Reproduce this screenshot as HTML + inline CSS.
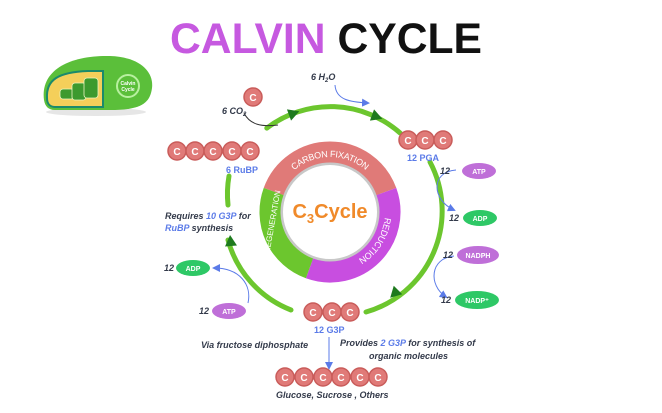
<!DOCTYPE html>
<html><head><meta charset="utf-8"><style>
html,body{margin:0;padding:0;background:#fff;width:662px;height:413px;overflow:hidden}
svg{display:block}
text{font-family:"Liberation Sans",sans-serif}
</style></head><body>
<svg width="662" height="413" viewBox="0 0 662 413" xmlns="http://www.w3.org/2000/svg">
<defs>
<marker id="ab" markerWidth="8" markerHeight="8" refX="6" refY="4" orient="auto" markerUnits="userSpaceOnUse"><path d="M0,0 L8,4 L0,8 z" fill="#5b7be8"/></marker>
</defs>
<text x="170" y="53" font-size="43" font-weight="bold" textLength="312" lengthAdjust="spacingAndGlyphs"><tspan fill="#c659e0">CALVIN</tspan><tspan fill="#111"> CYCLE</tspan></text>

<ellipse cx="96" cy="112" rx="50" ry="4" fill="#e6e6e6"/>
<path d="M44,100 C40,70 70,55 110,56 C140,57 154,72 152,88 C150,104 140,110 110,110 L55,110 C48,110 45,106 44,100 z" fill="#5bbf3a"/>
<path d="M47,98 C46,80 58,72 88,71 L103,71 L103,107 L55,107 C50,107 47,104 47,98 z" fill="#f4cf5a" stroke="#1b8a6b" stroke-width="2"/>
<g fill="#3c9a2e" stroke="#ecf5c0" stroke-width="0.8">
<rect x="60" y="89" width="14" height="10" rx="3"/><rect x="72" y="83" width="14" height="17" rx="3"/><rect x="84" y="78" width="14" height="20" rx="3"/>
</g>
<circle cx="128" cy="86" r="11" fill="none" stroke="#b8f0a0" stroke-width="2"/>
<text x="128" y="85" font-size="5" font-weight="bold" fill="#fff" text-anchor="middle">Calvin</text>
<text x="128" y="91" font-size="5" font-weight="bold" fill="#fff" text-anchor="middle">Cycle</text>

<circle cx="330" cy="212" r="50" fill="#fff" stroke="#c8c8c8" stroke-width="6"/>
<circle cx="330" cy="212" r="46" fill="#fff"/>
<g fill="none" stroke-width="21">
<path d="M273.6,191.5 A60,60 0 0 1 386.4,191.5" stroke="#e07a78"/>
<path d="M386.4,191.5 A60,60 0 0 1 309.5,268.4" stroke="#c84ee0"/>
<path d="M309.5,268.4 A60,60 0 0 1 273.6,191.5" stroke="#6cc62e"/>
</g>
<text x="330" y="218" font-size="20" font-weight="bold" fill="#f08a2a" text-anchor="middle">C<tspan font-size="13" dy="5">3</tspan><tspan dy="-5">Cycle</tspan></text>
<defs>
<path id="tp1" d="M272,212 A58,58 0 0 1 388,212"/>
<path id="tp2" d="M330,154 A58,58 0 0 1 330,270"/>
</defs>
<text font-size="9" fill="#fff" dy="3"><textPath href="#tp1" startOffset="50%" text-anchor="middle">CARBON FIXATION</textPath></text>
<text font-size="9" fill="#fff" dy="3"><textPath href="#tp2" startOffset="68%" text-anchor="middle">REDUCTION</textPath></text>
<text font-size="8" fill="#fff" text-anchor="middle" transform="translate(275,222) rotate(-80)">REGENERATION</text>

<g fill="none" stroke="#6cc62e" stroke-width="5" stroke-linecap="round">
<path d="M266.8,128.1 A105,105 0 0 1 400.1,133.0"/>
<path d="M430,162 A105,105 0 0 1 366,312"/>
<path d="M291,310 A105,105 0 0 1 228,240"/>
<path d="M228,205 A105,105 0 0 1 229,176"/>
</g>
<g fill="#1e7a1e">
<polygon points="0,-6 11,0 0,6" transform="translate(289,115) rotate(-20)"/>
<polygon points="0,-6 11,0 0,6" transform="translate(372,115) rotate(20)"/>
<polygon points="0,-6 11,0 0,6" transform="translate(398,290) rotate(135)"/>
<polygon points="0,-6 11,0 0,6" transform="translate(231,246) rotate(-95)"/>
</g>

<g fill="none" stroke="#5b7be8" stroke-width="1" marker-end="url(#ab)">
<path d="M335,85 C336,100 350,102 368,103"/>
<path d="M456,170 C430,172 432,200 454,210"/>
<path d="M454,256 C430,258 428,285 446,297"/>
<path d="M248,303 C252,285 240,268 214,268"/>
<path d="M329,337 L329,368"/>
</g>
<path d="M244,113 C250,125 262,127 278,125" fill="none" stroke="#333" stroke-width="1"/>

<g fill="#e07a78" stroke="#c95c5a" stroke-width="1.5">
<circle cx="253" cy="97" r="9"/>
<circle cx="177" cy="151" r="9"/><circle cx="195" cy="151" r="9"/><circle cx="213" cy="151" r="9"/><circle cx="232" cy="151" r="9"/><circle cx="250" cy="151" r="9"/>
<circle cx="408" cy="140" r="9"/><circle cx="425" cy="140" r="9"/><circle cx="443" cy="140" r="9"/>
<circle cx="313" cy="312" r="9"/><circle cx="332" cy="312" r="9"/><circle cx="350" cy="312" r="9"/>
<circle cx="285" cy="377" r="9"/><circle cx="304" cy="377" r="9"/><circle cx="323" cy="377" r="9"/><circle cx="341" cy="377" r="9"/><circle cx="360" cy="377" r="9"/><circle cx="378" cy="377" r="9"/>
</g>
<g fill="#fff" font-size="10" font-weight="bold" text-anchor="middle">
<text x="253" y="101">C</text>
<text x="177" y="155">C</text><text x="195" y="155">C</text><text x="213" y="155">C</text><text x="232" y="155">C</text><text x="250" y="155">C</text>
<text x="408" y="144">C</text><text x="425" y="144">C</text><text x="443" y="144">C</text>
<text x="313" y="316">C</text><text x="332" y="316">C</text><text x="350" y="316">C</text>
<text x="285" y="381">C</text><text x="304" y="381">C</text><text x="323" y="381">C</text><text x="341" y="381">C</text><text x="360" y="381">C</text><text x="378" y="381">C</text>
</g>

<g>
<ellipse cx="479" cy="171" rx="17" ry="8" fill="#bf6fd8"/>
<ellipse cx="480" cy="218" rx="17" ry="8" fill="#2ec866"/>
<ellipse cx="478" cy="255" rx="21" ry="9" fill="#bf6fd8"/>
<ellipse cx="477" cy="300" rx="22" ry="9" fill="#2ec866"/>
<ellipse cx="193" cy="268" rx="17" ry="8" fill="#2ec866"/>
<ellipse cx="229" cy="311" rx="17" ry="8" fill="#bf6fd8"/>
</g>
<g fill="#fff" font-size="7" font-weight="bold" text-anchor="middle">
<text x="479" y="174">ATP</text><text x="480" y="221">ADP</text><text x="478" y="258">NADPH</text><text x="477" y="303">NADP⁺</text>
<text x="193" y="271">ADP</text><text x="229" y="314">ATP</text>
</g>

<g font-size="9" font-weight="bold" font-style="italic" fill="#333a4a">
<text x="450" y="174" text-anchor="end">12</text>
<text x="459" y="221" text-anchor="end">12</text>
<text x="453" y="258" text-anchor="end">12</text>
<text x="451" y="303" text-anchor="end">12</text>
<text x="174" y="271" text-anchor="end">12</text>
<text x="209" y="314" text-anchor="end">12</text>
<text x="222" y="114">6 CO<tspan font-size="6" dy="2">2</tspan></text>
<text x="311" y="80">6 H<tspan font-size="6" dy="2">2</tspan><tspan dy="-2">O</tspan></text>
<text x="165" y="219">Requires <tspan fill="#5b7be8">10 G3P</tspan> for</text>
<text x="165" y="231"><tspan fill="#5b7be8">RuBP</tspan> synthesis</text>
<text x="201" y="348">Via fructose diphosphate</text>
<text x="340" y="346">Provides <tspan fill="#5b7be8">2 G3P</tspan> for synthesis of</text>
<text x="369" y="359">organic molecules</text>
<text x="276" y="398">Glucose, Sucrose , Others</text>
</g>
<g font-size="9" font-weight="bold" fill="#5b7be8">
<text x="226" y="173">6 RuBP</text>
<text x="407" y="161">12 PGA</text>
<text x="314" y="333">12 G3P</text>
</g>
</svg>
</body></html>
